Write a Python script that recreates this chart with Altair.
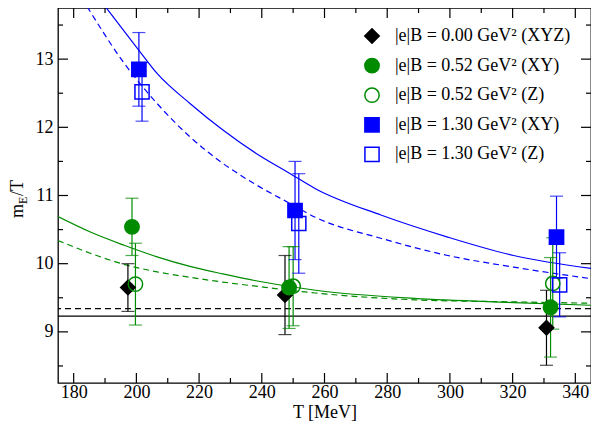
import altair as alt
import pandas as pd

# ---------------- data ----------------
series = ["|e|B = 0.00 GeV² (XYZ)", "|e|B = 0.52 GeV² (XY)", "|e|B = 0.52 GeV² (Z)",
          "|e|B = 1.30 GeV² (XY)", "|e|B = 1.30 GeV² (Z)"]
colors = ["#000000", "#008b00", "#008b00", "#0000ff", "#0000ff"]
fills = ["#000000", "#008b00", "transparent", "#0000ff", "transparent"]
shapes = ["diamond", "circle", "circle", "square", "square"]
sizes = [210, 200, 200, 140, 140]

T_000 = [197.3, 247.4, 330.8]
m_000 = [9.65, 9.54, 9.06]
e_000 = [0.35, 0.58, 0.55]
T_052xy = [198.6, 248.7, 332.1]
m_052xy = [10.54, 9.65, 9.36]
e_052xy = [0.42, 0.60, 0.73]
T_052z = [199.7, 250.0, 332.8]
m_052z = [9.70, 9.67, 9.71]
e_052z = [0.60, 0.58, 0.67]
T_130xy = [200.8, 250.6, 334.0]
m_130xy = [12.85, 10.78, 10.39]
e_130xy = [0.54, 0.72, 0.60]
T_130z = [201.8, 251.8, 335.0]
m_130z = [12.52, 10.59, 9.69]
e_130z = [0.43, 0.73, 0.47]

# fit curves
fitT_blue_xy = [190.1, 200.8, 206.6, 217.1, 227.6, 238.1, 248.7, 257.1, 278.2, 299.3, 320.3, 345.0]
fit_blue_xy = [13.77, 13.13, 12.79, 12.35, 11.96, 11.62, 11.33, 11.10, 10.71, 10.39, 10.12, 9.93]
fitT_blue_z = [184.3, 196.1, 206.6, 217.1, 227.6, 238.1, 248.7, 257.1, 278.2, 299.3, 320.3, 345.0]
fit_blue_z = [13.77, 12.94, 12.35, 11.86, 11.47, 11.16, 10.89, 10.68, 10.37, 10.12, 9.95, 9.78]
fitT_green = [175.0, 185.5, 196.1, 206.6, 217.1, 227.6, 238.1, 257.1, 288.7, 320.3, 345.0]
fit_green_xy = [10.69, 10.46, 10.27, 10.10, 9.96, 9.85, 9.75, 9.61, 9.49, 9.43, 9.39]
fit_green_z = [10.34, 10.15, 9.99, 9.88, 9.80, 9.73, 9.67, 9.57, 9.47, 9.44, 9.42]
black_xyz_solid = 9.23
black_xyz_dashed = 9.34

x_major = [180, 200, 220, 240, 260, 280, 300, 320, 340]
x_minor = [190, 210, 230, 250, 270, 290, 310, 330]
y_major = [9, 10, 11, 12, 13]
y_minor = [8.5, 9.5, 10.5, 11.5, 12.5, 13.5]

X_DOM = [175, 345]
Y_DOM = [8.25, 13.75]
W, H = 533, 375
FONT = "Liberation Serif, Times New Roman, Times, serif"

# ---------------- tables ----------------
rows = []
for s, c, Ts, ms, es in zip(series, colors,
                            [T_000, T_052xy, T_052z, T_130xy, T_130z],
                            [m_000, m_052xy, m_052z, m_130xy, m_130z],
                            [e_000, e_052xy, e_052z, e_130xy, e_130z]):
    for t, m, e in zip(Ts, ms, es):
        rows.append({"series": s, "col": c, "T": t, "m": m, "lo": m - e, "hi": m + e})
pts = pd.DataFrame(rows)

curves = []
for name, col, Ts, vs in [
    ("bxy", "#0000ff", fitT_blue_xy, fit_blue_xy),
    ("bz", "#0000ff", fitT_blue_z, fit_blue_z),
    ("gxy", "#008b00", fitT_green, fit_green_xy),
    ("gz", "#008b00", fitT_green, fit_green_z),
]:
    for t, v in zip(Ts, vs):
        curves.append({"curve": name, "col": col, "T": t, "v": v})
curv = pd.DataFrame(curves)

xs = alt.Scale(domain=X_DOM, nice=False, zero=False)
ys = alt.Scale(domain=Y_DOM, nice=False, zero=False)

x_axis = alt.Axis(values=x_major, ticks=False, domain=False, grid=False, format="d",
                  labelPadding=0, title="T [MeV]", titlePadding=2)
y_axis = alt.Axis(values=y_major, ticks=False, domain=False, grid=False, format="d",
                  labelPadding=5, title=None)


def X(field="T"):
    return alt.X(f"{field}:Q", scale=xs, axis=x_axis)


def Y(field):
    return alt.Y(f"{field}:Q", scale=ys, axis=y_axis)


# curves
line_layers = []
for name, dash in [("bxy", None), ("bz", [6, 4]), ("gxy", None), ("gz", [6, 4])]:
    kw = dict(clip=True, strokeWidth=1.2, interpolate="monotone")
    if dash:
        kw["strokeDash"] = dash
    line_layers.append(
        alt.Chart(curv[curv.curve == name]).mark_line(**kw).encode(
            x=X(), y=Y("v"), color=alt.Color("col:N", scale=None),
        )
    )

hlines = pd.DataFrame({"v": [black_xyz_solid, black_xyz_dashed], "kind": ["solid", "dash"]})
hl_solid = alt.Chart(hlines[hlines.kind == "solid"]).mark_rule(color="black", strokeWidth=1.2).encode(
    y=Y("v"))
hl_dash = alt.Chart(hlines[hlines.kind == "dash"]).mark_rule(color="black", strokeWidth=1.2,
                                                             strokeDash=[6, 4]).encode(y=Y("v"))

err = alt.Chart(pts).mark_rule(strokeWidth=1.2).encode(
    x=X(), y=Y("lo"), y2="hi:Q", color=alt.Color("col:N", scale=None))
cap_lo = alt.Chart(pts).mark_tick(orient="horizontal", size=13, thickness=1.2).encode(
    x=X(), y=Y("lo"), color=alt.Color("col:N", scale=None))
cap_hi = alt.Chart(pts).mark_tick(orient="horizontal", size=13, thickness=1.2).encode(
    x=X(), y=Y("hi"), color=alt.Color("col:N", scale=None))

legend = alt.Legend(title=None, orient="none", legendX=305, legendY=19,
                    labelOffset=14, rowPadding=7.6, padding=0, symbolStrokeWidth=1.5)
points = alt.Chart(pts).mark_point(filled=False, strokeWidth=1.5, opacity=1).encode(
    x=X(), y=Y("m"),
    shape=alt.Shape("series:N", scale=alt.Scale(domain=series, range=shapes), legend=legend),
    stroke=alt.Stroke("series:N", scale=alt.Scale(domain=series, range=colors), legend=legend),
    fill=alt.Fill("series:N", scale=alt.Scale(domain=series, range=fills), legend=legend),
    size=alt.Size("series:N", scale=alt.Scale(domain=series, range=sizes), legend=legend),
)

# inward ticks on all four sides
xt_major = pd.DataFrame({"T": x_major})
xt_minor = pd.DataFrame({"T": x_minor})
yt_major = pd.DataFrame({"m": y_major})
yt_minor = pd.DataFrame({"m": y_minor})
tick_layers = []
for df, L in [(xt_major, 10), (xt_minor, 5)]:
    for y0, y1 in [(H, H - L), (0, L)]:
        tick_layers.append(alt.Chart(df).mark_rule(color="black", strokeWidth=1.2).encode(
            x=X(), y=alt.value(y0), y2=alt.value(y1)))
for df, L in [(yt_major, 10), (yt_minor, 5)]:
    for x0, x1 in [(0, L), (W, W - L)]:
        tick_layers.append(alt.Chart(df).mark_rule(color="black", strokeWidth=1.2).encode(
            y=Y("m"), x=alt.value(x0), x2=alt.value(x1)))

# y title m_E/T
ytitle = pd.DataFrame({"t": ["m", "E", "/T"]})
yt_m = alt.Chart(ytitle[ytitle.t == "m"]).mark_text(
    angle=270, align="left", baseline="alphabetic", font=FONT, fontSize=18, color="black"
).encode(text="t:N", x=alt.value(-35), y=alt.value(210))
yt_E = alt.Chart(ytitle[ytitle.t == "E"]).mark_text(
    angle=270, align="left", baseline="alphabetic", font=FONT, fontSize=12, color="black"
).encode(text="t:N", x=alt.value(-31), y=alt.value(196))
yt_T = alt.Chart(ytitle[ytitle.t == "/T"]).mark_text(
    angle=270, align="left", baseline="alphabetic", font=FONT, fontSize=18, color="black"
).encode(text="t:N", x=alt.value(-35), y=alt.value(188))

chart = alt.layer(
    *line_layers, hl_solid, hl_dash, err, cap_lo, cap_hi, points, *tick_layers,
    yt_m, yt_E, yt_T
).resolve_scale(color="independent").properties(
    width=W, height=H, autosize="none",
    padding={"left": 50, "top": 0, "right": 0, "bottom": 40},
    background="white",
).configure(font=FONT).configure_axis(
    labelFont=FONT, labelFontSize=18, labelColor="black",
    titleFont=FONT, titleFontSize=18, titleFontWeight="normal", titleColor="black",
).configure_legend(
    labelFont=FONT, labelFontSize=18, labelColor="black", labelLimit=400,
).configure_view(stroke="black", strokeWidth=1.3, fill="white")

chart.save("out.html", embed_options={"renderer": "svg", "actions": False})
